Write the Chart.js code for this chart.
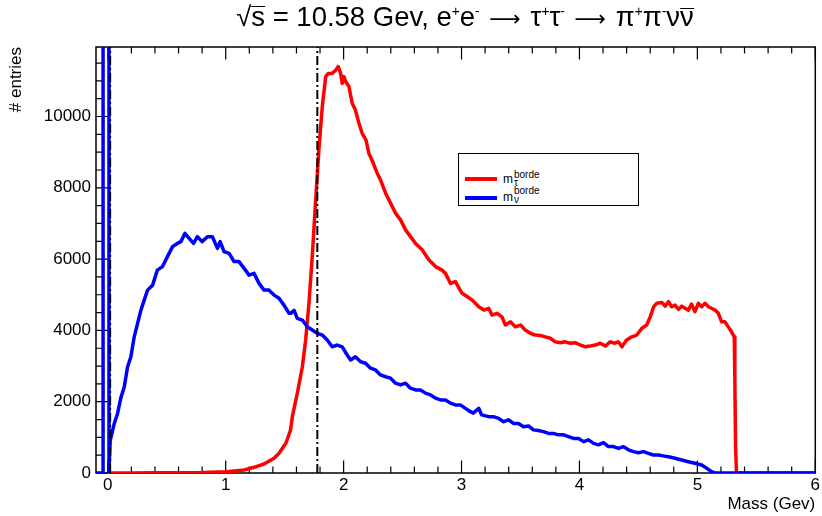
<!DOCTYPE html>
<html>
<head>
<meta charset="utf-8">
<script src="https://cdn.jsdelivr.net/npm/chart.js@4.4.1/dist/chart.umd.min.js"></script>
<style>
  body { margin: 0; background: #fff; }
  #wrap { position: relative; width: 822px; height: 516px; font-family: "Liberation Sans", Arial, sans-serif; color: #000; }
  #title { position: absolute; left: 465px; top: 2px; transform: translateX(-50%); font-size: 27.5px; line-height: 30px; white-space: nowrap; }
  #title sup { font-size: 0.5em; vertical-align: 0.7em; line-height: 0; }
  #title .arr { font-family: "DejaVu Sans", sans-serif; font-size: 0.8em; padding: 0 2px; }
  .ol { display: inline-block; border-top: 1.5px solid #000; }
  .ol.s1 { line-height: 0.72em; }
  .ol.s2 { line-height: 0.56em; }
  #legend { position: absolute; left: 458px; top: 153px; width: 181px; height: 53px; box-sizing: border-box; border: 1px solid #000; background: #fff; }
  .swatch { position: absolute; left: 6px; width: 32px; height: 4px; }
  .m { position: absolute; left: 44px; font-size: 12px; line-height: 12px; }
  .s { position: absolute; left: 55px; font-size: 10px; line-height: 10px; white-space: nowrap; }
</style>
</head>
<body>
<div id="wrap">
  <canvas id="massChart" width="822" height="516"></canvas>
  <div id="title">√<span class="ol s1">s</span> = 10.58 Gev, e<sup>+</sup>e<sup>-</sup> <span class="arr">⟶</span> τ<sup>+</sup>τ<sup>-</sup> <span class="arr">⟶</span> π<sup>+</sup>π<sup>-</sup>ν<span class="ol s2">ν</span></div>
  <div id="legend">
    <div class="swatch" style="top:23px;background:#ff0000"></div>
    <div class="m" style="top:19px">m</div>
    <div class="s" style="top:16px">borde</div>
    <div class="s" style="top:24px">τ</div>
    <div class="swatch" style="top:42px;background:#0000ff"></div>
    <div class="m" style="top:37px">m</div>
    <div class="s" style="top:32px">borde</div>
    <div class="s" style="top:41px">ν</div>
  </div>
</div>
<script>
// =============== data =============================================
var tauMass = [0, 0.2, 0.4, 0.6, 0.8, 1.01, 1.156, 1.24, 1.325, 1.41, 1.452, 1.51, 1.55, 1.565, 1.607,
    1.65, 1.678, 1.706, 1.734, 1.763, 1.79, 1.819, 1.848, 1.87, 1.903, 1.932, 1.954, 1.975, 1.988, 2.003,
    2.017, 2.045, 2.073, 2.10, 2.13, 2.157, 2.19, 2.214, 2.24, 2.285, 2.313, 2.356, 2.398, 2.44, 2.483,
    2.525, 2.567, 2.61, 2.666, 2.722, 2.779, 2.835, 2.864, 2.906, 2.948, 3.004, 3.047, 3.09, 3.146, 3.19,
    3.23, 3.26, 3.30, 3.343, 3.372, 3.414, 3.456, 3.50, 3.54, 3.583, 3.625, 3.668, 3.71, 3.753, 3.795,
    3.837, 3.88, 3.922, 3.964, 4.007, 4.05, 4.09, 4.134, 4.176, 4.22, 4.26, 4.30, 4.33, 4.36, 4.40,
    4.444, 4.486, 4.53, 4.57, 4.60, 4.63, 4.655, 4.70, 4.727, 4.755, 4.782, 4.81, 4.84, 4.867, 4.896,
    4.924, 4.95, 4.98, 5.008, 5.036, 5.065, 5.093, 5.12, 5.15, 5.178, 5.206, 5.234, 5.262, 5.29, 5.313,
    5.318, 5.324, 5.332, 6.0];
var tauEntries = [0, 0, 5, 10, 15, 36, 84, 160, 252, 411, 552, 832, 1206, 1580, 2235,
    2980, 3730, 4760, 6070, 7660, 9060, 10280, 11120, 11210, 11210, 11300, 11400, 11210, 10930, 11120,
    10980, 10840, 10370, 10180, 9810, 9530, 9340, 8970, 8780, 8410, 8220, 7850, 7570, 7290, 7100,
    6820, 6630, 6440, 6260, 5980, 5790, 5690, 5600, 5320, 5370, 5040, 4950, 4850, 4665, 4570,
    4620, 4430, 4480, 4380, 4150, 4240, 4100, 4150, 4010, 3920, 3870, 3860, 3820, 3780, 3680,
    3655, 3680, 3640, 3655, 3590, 3540, 3560, 3590, 3640, 3560, 3680, 3640, 3680, 3540, 3730,
    3820, 3870, 4060, 4150, 4380, 4665, 4760, 4780, 4680, 4805, 4665, 4710, 4590, 4680, 4620,
    4570, 4740, 4525, 4760, 4665, 4760, 4665, 4620, 4570, 4480, 4240, 4240, 4100, 3960, 3820,
    2610, 740, 0, 0];

var nuMass = [-0.1, -0.04, -0.04, 0.01, 0.01, 0.02, 0.055, 0.083, 0.11, 0.14, 0.168, 0.196, 0.224, 0.253,
    0.281, 0.309, 0.337, 0.38, 0.42, 0.464, 0.506, 0.549, 0.59, 0.62, 0.654, 0.69, 0.727, 0.76, 0.80,
    0.845, 0.887, 0.93, 0.953, 0.986, 1.029, 1.071, 1.113, 1.156, 1.198, 1.24, 1.283, 1.325, 1.367, 1.41,
    1.452, 1.494, 1.537, 1.551, 1.58, 1.607, 1.65, 1.692, 1.734, 1.776, 1.819, 1.861, 1.903, 1.946, 1.988,
    2.03, 2.059, 2.10, 2.144, 2.186, 2.228, 2.27, 2.313, 2.356, 2.398, 2.44, 2.483, 2.525, 2.567, 2.61,
    2.652, 2.694, 2.737, 2.779, 2.821, 2.864, 2.906, 2.948, 2.99, 3.03, 3.075, 3.10, 3.146, 3.17, 3.23,
    3.27, 3.315, 3.357, 3.40, 3.44, 3.483, 3.526, 3.568, 3.61, 3.65, 3.695, 3.738, 3.78, 3.82, 3.865,
    3.907, 3.95, 3.992, 4.035, 4.077, 4.12, 4.16, 4.204, 4.246, 4.29, 4.33, 4.373, 4.416, 4.458, 4.50,
    4.543, 4.585, 4.627, 4.67, 4.71, 4.755, 4.81, 4.867, 4.924, 4.98, 5.036, 5.08, 5.12, 5.15, 6.0];
var nuEntries = [0, 0, 60000, 60000, 0, 900, 1390, 1670, 2100, 2420, 2980, 3260, 3820, 4200,
    4570, 4850, 5130, 5270, 5690, 5790, 6070, 6350, 6440, 6490, 6720, 6580, 6440, 6630, 6490,
    6630, 6630, 6300, 6490, 6210, 6160, 5930, 5930, 5740, 5550, 5600, 5320, 5130, 5130, 4990,
    4900, 4710, 4480, 4480, 4560, 4340, 4290, 4100, 4010, 3920, 3870, 3730, 3540, 3590, 3540,
    3310, 3170, 3260, 3120, 3080, 2940, 2890, 2750, 2700, 2660, 2520, 2470, 2520, 2380, 2330,
    2330, 2240, 2190, 2100, 2050, 2050, 1960, 1910, 1910, 1820, 1720, 1680, 1815, 1630, 1580,
    1580, 1530, 1440, 1490, 1390, 1390, 1300, 1320, 1210, 1190, 1160, 1110, 1110, 1070, 1070,
    1020, 970, 970, 880, 930, 830, 790, 850, 740, 740, 690, 740, 650, 600, 570,
    600, 550, 505, 505, 480, 457, 412, 365, 317, 272, 224, 132, 36, 0, 0];

// dash-dot reference lines (m = 0 and m_tau)
var markerMass = [0.02, 1.777];

var xTicks = [0, 1, 2, 3, 4, 5, 6];
var yTicks = [0, 2000, 4000, 6000, 8000, 10000];
var xMin = -0.1, xMax = 6, yMax = 11950;

// ============= helpers =================
function toPoints(xs, ys) {
    return xs.map(function (x, i) { return { x: x, y: ys[i] }; });
}

// frame with ROOT style inward ticks (minor every 0.2 / 500)
var frameTicks = {
    id: 'frameTicks',
    beforeDatasetsDraw: function (chart) {
        var ctx = chart.ctx, a = chart.chartArea;
        var xs = chart.scales.x, ys = chart.scales.y;
        ctx.save();
        ctx.strokeStyle = '#000';
        ctx.lineWidth = 1.2;
        ctx.beginPath();
        for (var k = 0; k <= 30; k++) {
            var px = xs.getPixelForValue(k * 0.2);
            var len = (k % 5 === 0) ? 12.5 : 6.5;
            ctx.moveTo(px, a.bottom); ctx.lineTo(px, a.bottom - len);
            ctx.moveTo(px, a.top); ctx.lineTo(px, a.top + len);
        }
        for (var j = 0; j * 500 <= ys.max; j++) {
            var py = ys.getPixelForValue(j * 500);
            var len2 = (j % 4 === 0) ? 12 : 6;
            ctx.moveTo(a.left, py); ctx.lineTo(a.left + len2, py);
        }
        ctx.stroke();
        ctx.lineWidth = 1.5;
        ctx.strokeRect(a.left, a.top, a.right - a.left, a.bottom - a.top);
        ctx.restore();
    }
};

// ============= chart =================
Chart.defaults.font.family = '"Liberation Sans", Arial, sans-serif';
Chart.defaults.color = '#000';

var datasets = [{
    label: 'm_nu',
    data: toPoints(nuMass, nuEntries),
    borderColor: '#0000ff',
    borderWidth: 3.5,
    order: 0
}, {
    label: 'm_tau',
    data: toPoints(tauMass, tauEntries),
    borderColor: '#ff0000',
    borderWidth: 3.5,
    order: 1
}];

markerMass.forEach(function (m) {
    datasets.push({
        label: 'marker',
        data: [{ x: m, y: 0 }, { x: m, y: yMax }],
        borderColor: '#000',
        borderWidth: 2,
        borderDash: [9, 3, 2, 3],
        order: -1
    });
});

var ctx = document.getElementById('massChart');

var myChart = new Chart(ctx, {
    type: 'line',
    data: { datasets: datasets },
    options: {
        responsive: false,
        animation: false,
        events: [],
        layout: { padding: { top: 47, right: 1, left: 0, bottom: 0 } },
        elements: {
            point: { radius: 0 },
            line: { tension: 0, borderJoinStyle: 'round', fill: false }
        },
        plugins: {
            legend: { display: false },
            tooltip: { enabled: false }
        },
        scales: {
            x: {
                type: 'linear',
                min: xMin,
                max: xMax,
                grid: { display: false, drawTicks: false },
                border: { display: false },
                afterBuildTicks: function (axis) {
                    axis.ticks = xTicks.map(function (v) { return { value: v }; });
                },
                afterFit: function (axis) { axis.height = 43; },
                ticks: {
                    font: { size: 17 }, padding: 2, maxRotation: 0, autoSkip: false,
                    callback: function (v) { return String(v); }
                },
                title: {
                    display: true, text: 'Mass (Gev)', align: 'end',
                    font: { size: 17 }, padding: { top: 0, bottom: 1 }
                }
            },
            y: {
                type: 'linear',
                min: 0,
                max: yMax,
                grid: { display: false, drawTicks: false },
                border: { display: false },
                afterBuildTicks: function (axis) {
                    axis.ticks = yTicks.map(function (v) { return { value: v }; });
                },
                afterFit: function (axis) { axis.width = 96; },
                ticks: {
                    font: { size: 17 }, padding: 5,
                    callback: function (v) { return String(v); }
                },
                title: {
                    display: true, text: '# entries', align: 'end',
                    font: { size: 17 }, padding: { top: 6, bottom: 0 }
                }
            }
        }
    },
    plugins: [frameTicks]
});
</script>
</body>
</html>
